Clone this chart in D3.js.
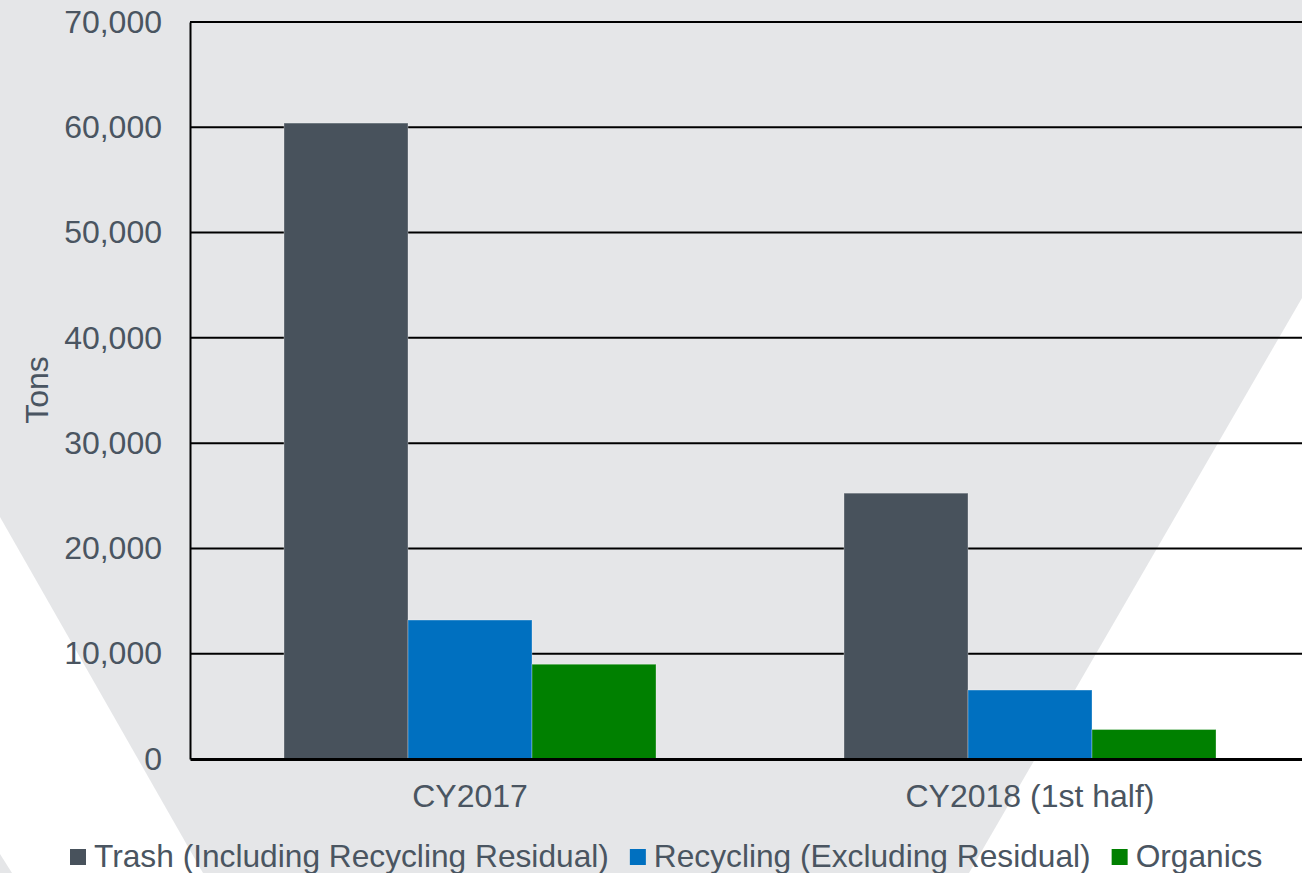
<!DOCTYPE html>
<html>
<head>
<meta charset="utf-8">
<script src="https://cdn.jsdelivr.net/npm/d3@7"></script>
<style>
  body { margin: 0; background: #fff; }
  svg { display: block; font-family: "Liberation Sans", Arial, sans-serif; }
</style>
</head>
<body>
<div id="wrapper"></div>
<script>
const categories = ["CY2017", "CY2018 (1st half)"]
const seriesNames = ["Trash (Including Recycling Residual)", "Recycling (Excluding Residual)", "Organics"]
const trash = [60400, 25250]
const recycling = [13200, 6550]
const organics = [9000, 2800]
const yTicks = [0, 10000, 20000, 30000, 40000, 50000, 60000, 70000]
const colors = ["#48525c", "#0070c0", "#008000"]

const textColor = "#4a5561"
const fontSize = "32px"

const width = 1302
const height = 873
let dimensions = {
    width: width,
    height: height,
    margin: { top: 22, right: -8, bottom: 114, left: 190 },
}
dimensions.boundedWidth = dimensions.width - dimensions.margin.left - dimensions.margin.right
dimensions.boundedHeight = dimensions.height - dimensions.margin.top - dimensions.margin.bottom

const svg = d3.select("#wrapper")
    .append("svg")
    .attr("width", width)
    .attr("height", height)

// background: gray funnel shape with white corners
svg.append("rect")
    .attr("width", width).attr("height", height)
    .attr("fill", "#ffffff")
svg.append("path")
    .attr("d", "M0,0 L1302,0 L1302,298 L969,873 L203,873 L0,517 Z")
    .attr("fill", "#e5e6e8")
svg.append("path")
    .attr("d", "M0,854 L12,873 L0,873 Z")
    .attr("fill", "#e5e6e8")

const bounds = svg.append("g")
    .attr("transform", `translate(${dimensions.margin.left},${dimensions.margin.top})`)

const series = seriesNames.map((name, i) => ({
    name: name,
    color: colors[i],
    values: [trash, recycling, organics][i],
}))

const x0 = d3.scaleBand()
    .domain(categories)
    .range([0, dimensions.boundedWidth])

const x1 = d3.scaleBand()
    .domain(seriesNames)
    .range([0, x0.bandwidth()])
    .paddingInner(0)
    .paddingOuter(0.758)

const yScale = d3.scaleLinear()
    .domain([0, 70000])
    .range([dimensions.boundedHeight, 0])

// gridlines
bounds.append("g")
    .selectAll("line")
    .data(yTicks.filter(d => d > 0))
    .join("line")
    .attr("x1", 0)
    .attr("x2", dimensions.boundedWidth)
    .attr("y1", d => yScale(d))
    .attr("y2", d => yScale(d))
    .attr("stroke", "#000")
    .attr("stroke-width", 2)

// bars
const groups = bounds.append("g")
    .selectAll("g")
    .data(categories)
    .join("g")
    .attr("transform", d => `translate(${x0(d)},0)`)

groups.selectAll("rect")
    .data((c, ci) => series.map(s => ({ name: s.name, color: s.color, value: s.values[ci] })))
    .join("rect")
    .attr("x", d => x1(d.name))
    .attr("y", d => yScale(d.value))
    .attr("width", x1.bandwidth())
    .attr("height", d => dimensions.boundedHeight - yScale(d.value))
    .attr("fill", d => d.color)
    .attr("stroke", "rgba(255,255,255,0.3)")
    .attr("stroke-width", 1)

// y axis
const yAxisGen = d3.axisLeft(yScale)
    .tickValues(yTicks)
    .tickSize(0)
    .tickPadding(28)
    .tickFormat(d3.format(","))

const yAxis = bounds.append("g").call(yAxisGen)
yAxis.select(".domain").attr("stroke", "#000").attr("stroke-width", 2)
yAxis.selectAll("text")
    .attr("fill", textColor)
    .style("font-size", fontSize)

// x axis
const xAxisGen = d3.axisBottom(x0).tickSize(0).tickPadding(25)
const xAxis = bounds.append("g")
    .attr("transform", `translate(0,${dimensions.boundedHeight})`)
    .call(xAxisGen)
xAxis.select(".domain").attr("stroke", "#000").attr("stroke-width", 3)
xAxis.selectAll("text")
    .attr("fill", textColor)
    .style("font-size", fontSize)

// y label
svg.append("text")
    .attr("transform", `translate(48,390) rotate(-90)`)
    .attr("text-anchor", "middle")
    .attr("fill", textColor)
    .style("font-size", fontSize)
    .text("Tons")

// legend (sits at the bottom edge, as in the original)
const legend = svg.append("g").attr("transform", "translate(70,856)")
let lx = 0
series.forEach((s, i) => {
    const item = legend.append("g").attr("transform", `translate(${lx},0)`)
    item.append("rect")
        .attr("x", 0).attr("y", -7)
        .attr("width", 16).attr("height", 16)
        .attr("fill", s.color)
    const t = item.append("text")
        .attr("x", 24)
        .attr("dy", "0.35em")
        .attr("fill", textColor)
        .style("font-size", "31.7px")
        .text(s.name)
    lx += 24 + t.node().getComputedTextLength() + 21
})
</script>
</body>
</html>
